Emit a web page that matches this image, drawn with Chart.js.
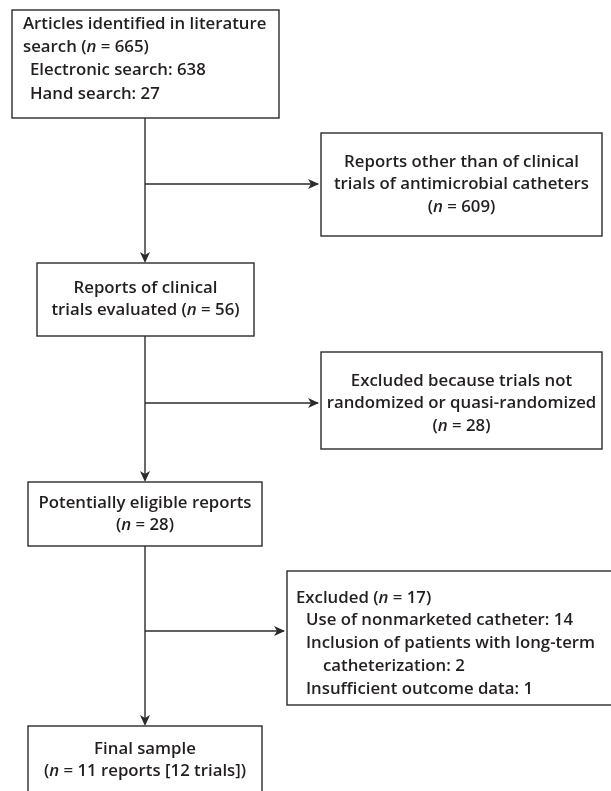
<html><head>
    <meta charset="UTF-8">
    <title>Study Selection Flow</title>
    <script src="https://cdn.jsdelivr.net/npm/chart.js"></script>
    <style>
        body {
            margin: 0;
            padding: 0;
            background-color: white;
        }
        .chart-container {
            width: 611px;
            height: 791px;
        }
    </style>
</head>
<body>
    <div class="chart-container">
        <canvas id="flowChart"></canvas>
    </div>
    <script>
        // Counts
        const stepCounts = [665, 609, 56, 28, 28, 17, 11];
        const searchSources = ['Electronic search', 'Hand search'];
        const searchCounts = [638, 27];
        const exclusionReasons = ['Use of nonmarketed catheter', 'Inclusion of patients with long-term|catheterization', 'Insufficient outcome data'];
        const exclusionCounts = [14, 2, 1];
        const finalTrials = 12;

        // Text of each box, one entry per line, _n_ marks italic n
        const boxLines = [
            ['Articles identified in literature', 'search (_n_ = ' + stepCounts[0] + ')',
                searchSources[0] + ': ' + searchCounts[0], searchSources[1] + ': ' + searchCounts[1]],
            ['Reports other than of clinical', 'trials of antimicrobial catheters', '(_n_ = ' + stepCounts[1] + ')'],
            ['Reports of clinical', 'trials evaluated (_n_ = ' + stepCounts[2] + ')'],
            ['Excluded because trials not', 'randomized or quasi-randomized', '(_n_ = ' + stepCounts[3] + ')'],
            ['Potentially eligible reports', '(_n_ = ' + stepCounts[4] + ')'],
            ['Excluded (_n_ = ' + stepCounts[5] + ')'].concat(
                exclusionReasons.flatMap((r, i) => (r + ': ' + exclusionCounts[i]).split('|'))),
            ['Final sample', '(_n_ = ' + stepCounts[6] + ' reports [' + finalTrials + ' trials])']
        ];

        // Layout in scale units (x: 0-611, y: 0-791 top-down)
        const boxLayout = [
            { x0: 12, y0: 10, x1: 279, y1: 118, align: 'left', tx: [23, 23, 30, 30], ty0: 24, dy: 23.3 },
            { x0: 321, y0: 133, x1: 602, y1: 236, align: 'center', ty0: 162, dy: 22.5 },
            { x0: 37, y0: 263, x1: 254, y1: 336, align: 'center', ty0: 288, dy: 22.5 },
            { x0: 321, y0: 352, x1: 602, y1: 449, align: 'center', ty0: 381, dy: 22.5 },
            { x0: 28, y0: 482, x1: 262, y1: 546, align: 'center', ty0: 503, dy: 22.5 },
            { x0: 287, y0: 571, x1: 620, y1: 705, align: 'left', tx: [296, 306, 306, 323, 306], ty0: 598, dy: 22.7 },
            { x0: 28, y0: 726, x1: 262, y1: 820, align: 'center', ty0: 749, dy: 22.5 }
        ];
        const trunkX = 145;
        const downArrows = [[118, 263], [336, 482], [546, 726]];
        const sideArrows = [[184, 321], [403, 321], [631, 287]];

        const inkColor = '#231f20';
        const lineColor = '#2b2b2b';
        const fontFamily = "'Open Sans', 'Noto Sans', sans-serif";
        const fontSize = 16.8;

        function drawRich(ctx, text, x, y, align) {
            const parts = text.split('_');
            const fonts = parts.map((p, i) => (i % 2 ? 'italic ' : '') + '600 ' + fontSize + 'px ' + fontFamily);
            let total = 0;
            const widths = parts.map((p, i) => { ctx.font = fonts[i]; const w = ctx.measureText(p).width; total += w; return w; });
            let cx = align === 'center' ? x - total / 2 : x;
            parts.forEach((p, i) => {
                ctx.font = fonts[i];
                ctx.fillText(p, cx, y);
                cx += widths[i];
            });
        }

        function arrowHead(ctx, x, y, dir) {
            // dir: 'down' or 'right', tip at (x, y)
            ctx.save();
            ctx.translate(x, y);
            if (dir === 'right') ctx.rotate(-Math.PI / 2);
            ctx.beginPath();
            ctx.moveTo(0, 0);
            ctx.lineTo(-5, -11);
            ctx.lineTo(0, -8);
            ctx.lineTo(5, -11);
            ctx.closePath();
            ctx.fillStyle = lineColor;
            ctx.fill();
            ctx.restore();
        }

        const flowPlugin = {
            id: 'flow',
            afterDatasetsDraw(chart) {
                const ctx = chart.ctx;
                const sx = chart.scales.x, sy = chart.scales.y;
                const px = v => sx.getPixelForValue(v);
                const py = v => sy.getPixelForValue(v);
                ctx.save();
                ctx.strokeStyle = lineColor;
                ctx.lineWidth = 1.4;

                // Connectors
                downArrows.forEach(([a, b]) => {
                    ctx.beginPath();
                    ctx.moveTo(px(trunkX), py(a));
                    ctx.lineTo(px(trunkX), py(b) - 3);
                    ctx.stroke();
                    arrowHead(ctx, px(trunkX), py(b), 'down');
                });
                sideArrows.forEach(([yv, xe]) => {
                    ctx.beginPath();
                    ctx.moveTo(px(trunkX), py(yv));
                    ctx.lineTo(px(xe) - 3, py(yv));
                    ctx.stroke();
                    arrowHead(ctx, px(xe) - 2, py(yv), 'right');
                });

                // Boxes and text
                ctx.fillStyle = inkColor;
                ctx.textBaseline = 'middle';
                boxLayout.forEach((b, i) => {
                    ctx.strokeRect(px(b.x0), py(b.y0), px(b.x1) - px(b.x0), py(b.y1) - py(b.y0));
                    ctx.textAlign = 'left';
                    boxLines[i].forEach((line, j) => {
                        const y = py(b.ty0 + j * b.dy);
                        if (b.align === 'center') {
                            drawRich(ctx, line, px((b.x0 + b.x1) / 2), y, 'center');
                        } else {
                            drawRich(ctx, line, px(b.tx[j]), y, 'left');
                        }
                    });
                });
                ctx.restore();
            }
        };

        const ctxFlow = document.getElementById('flowChart').getContext('2d');
        new Chart(ctxFlow, {
            type: 'scatter',
            data: {
                datasets: [{
                    label: 'Records',
                    data: [],
                    pointRadius: 0
                }]
            },
            options: {
                responsive: true,
                maintainAspectRatio: false,
                animation: false,
                layout: { padding: 0 },
                scales: {
                    x: { type: 'linear', min: 0, max: 611, display: false },
                    y: { type: 'linear', min: 0, max: 791, reverse: true, display: false }
                },
                plugins: {
                    legend: { display: false },
                    tooltip: { enabled: false }
                }
            },
            plugins: [flowPlugin]
        });
    </script>
</body></html>
